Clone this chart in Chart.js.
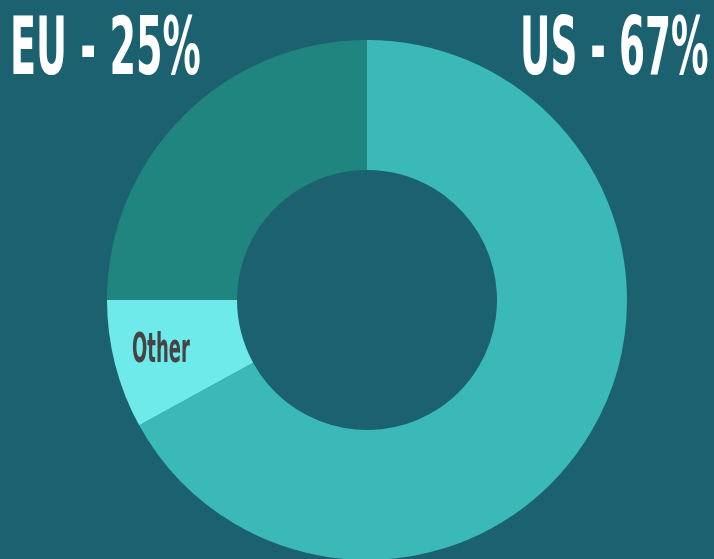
<!DOCTYPE html>
<html>
<head>
<meta charset="utf-8">
<script src="https://cdn.jsdelivr.net/npm/chart.js@4"></script>
<style>
  html, body { margin: 0; padding: 0; width: 714px; height: 559px; overflow: hidden; background: #1b6170; }
  #wrap { position: absolute; left: 107px; top: 40px; width: 520px; height: 520px; }
  .title {
    position: absolute; top: 7px; color: #ffffff;
    font-family: "Liberation Sans Narrow", "DejaVu Sans Condensed", sans-serif;
    font-weight: bold; font-size: 80px; line-height: 80px; white-space: nowrap;
  }
  #euTitle { left: 10px; transform: scaleX(0.53); transform-origin: left top; }
  #usTitle { right: 6px; transform: scaleX(0.52); transform-origin: right top; }
  #otherLabel {
    position: absolute; left: 132px; top: 328px; color: #444444;
    font-family: "Liberation Sans Narrow", "DejaVu Sans Condensed", sans-serif;
    font-weight: bold; font-size: 40px; line-height: 40px; white-space: nowrap;
    transform: scaleX(0.5); transform-origin: left top;
  }
</style>
</head>
<body>
<div id="euTitle" class="title">EU - 25%</div>
<div id="usTitle" class="title">US - 67%</div>
<div id="wrap"><canvas id="shareChart" width="520" height="520"></canvas></div>
<div id="otherLabel">Other</div>
<script>
// market share by region
const regions = ["US", "Other", "EU"];
const shares = [67, 8, 25];
const sliceColors = ["#3bb8b8", "#6eeaea", "#21857f"];

const config = {
    type: "doughnut",
    data: {
        labels: regions,
        datasets: [{
            data: shares,
            backgroundColor: sliceColors,
            borderWidth: 0,
        }],
    },
    options: {
        responsive: false,
        animation: false,
        cutout: "50%",
        layout: { padding: 0 },
        plugins: {
            legend: { display: false },
            tooltip: { enabled: false },
        },
    },
};

const shareChart = new Chart("shareChart", config);
</script>
</body>
</html>
